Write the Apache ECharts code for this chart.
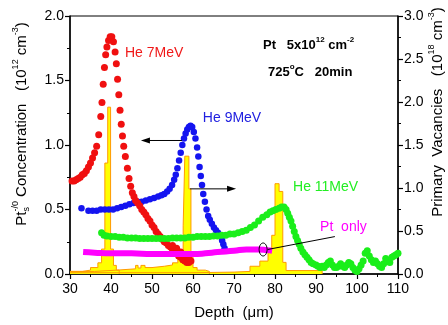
<!DOCTYPE html>
<html><head><meta charset="utf-8">
<script src="https://cdn.jsdelivr.net/npm/echarts@6/dist/echarts.min.js"></script>
<style>html,body{margin:0;padding:0;background:#fff}#c{width:448px;height:325px}</style>
</head><body><div id="c"></div>
<script>
// ---- data (depth in µm) ----
const xRange = [30, 110];
const leftRange = [0, 2];     // Pt concentration 1e12 cm^-3
const rightRange = [0, 3];    // primary vacancies 1e18 cm^-3

const he7 = [[30.5,0.72],[31,0.72],[31.5,0.73],[32,0.74],[32.5,0.75],[33,0.77],[33.5,0.78],[34,0.8],[34.5,0.83],[35,0.86],[35.5,0.9],[36,0.94],[36.5,0.99],[37,1.08],[37.5,1.22],[37.8,1.33],[38.1,1.47],[38.4,1.6],[38.7,1.7],[39,1.76],[39.4,1.81],[39.8,1.84],[40.2,1.84],[40.6,1.8],[41,1.72],[41.3,1.63],[41.6,1.51],[41.9,1.39],[42.2,1.27],[42.5,1.16],[42.8,1.07],[43.1,0.99],[43.5,0.91],[44,0.82],[44.4,0.74],[44.8,0.68],[45.2,0.63],[45.6,0.6],[46,0.57],[46.5,0.55],[47,0.53],[47.5,0.5],[48,0.48],[48.5,0.46],[49,0.43],[49.5,0.41],[50,0.38],[50.5,0.36],[51,0.33],[51.5,0.31],[52,0.29],[52.5,0.27],[53,0.25],[53.5,0.24],[54,0.22],[54.5,0.21],[55,0.19],[55.5,0.18],[56,0.16],[56.5,0.14],[57,0.13],[57.5,0.11],[58,0.1],[58.5,0.09],[59,0.09],[59.5,0.1],[56,0.2],[57,0.17],[58,0.14],[59,0.12],[55,0.22]];

const he9 = [[32.8,0.51],[34.5,0.49],[35.5,0.49],[36.5,0.49],[37.5,0.5],[38.5,0.5],[39.5,0.5],[40.5,0.5],[41.5,0.51],[42.5,0.52],[43.5,0.53],[44.5,0.54],[45.5,0.55],[46.5,0.56],[47.5,0.56],[48.5,0.57],[49.5,0.58],[50.5,0.59],[51.5,0.6],[52.3,0.61],[53,0.62],[53.7,0.64],[54.3,0.66],[54.9,0.69],[55.4,0.73],[55.8,0.77],[56.2,0.82],[56.6,0.88],[57,0.94],[57.4,1.0],[57.8,1.05],[58.2,1.09],[58.6,1.12],[59,1.14],[59.4,1.15],[59.8,1.14],[60.2,1.1],[60.6,1.05],[61,0.98],[61.3,0.91],[61.6,0.83],[61.9,0.76],[62.2,0.69],[62.5,0.62],[62.9,0.56],[63.3,0.5],[63.7,0.45],[64.1,0.42],[64.6,0.39],[65.1,0.36],[65.6,0.34],[66.1,0.32],[66.6,0.3],[67.1,0.26],[67.4,0.23],[67.7,0.2]];

const he11 = [[37.7,0.32],[38.3,0.3],[39,0.295],[40,0.29],[41,0.29],[42,0.285],[43,0.285],[44,0.28],[45,0.28],[46,0.28],[47,0.275],[48,0.275],[49,0.275],[50,0.275],[51,0.275],[52,0.275],[53,0.275],[54,0.275],[55,0.28],[56,0.28],[57,0.28],[58,0.28],[59,0.285],[60,0.285],[61,0.29],[62,0.29],[63,0.29],[64,0.29],[65,0.295],[66,0.295],[67,0.3],[68,0.3],[69,0.31],[70,0.31],[71,0.32],[72,0.33],[73,0.34],[74,0.36],[75,0.38],[76,0.41],[77,0.44],[78,0.46],[78.8,0.48],[79.5,0.49],[80.2,0.5],[81,0.51],[81.6,0.52],[82.2,0.52],[82.7,0.5],[83.1,0.47],[83.5,0.44],[83.9,0.41],[84.3,0.37],[84.7,0.33],[85.1,0.29],[85.5,0.26],[85.9,0.23],[86.3,0.2],[86.8,0.17],[87.3,0.15],[87.8,0.13],[88.3,0.11],[88.8,0.09],[89.3,0.08],[90,0.07],[90.5,0.06],[91,0.05],[91.5,0.06],[92,0.05],[92.5,0.07],[93,0.09],[93.5,0.1],[94,0.07],[94.5,0.05],[95,0.05],[95.5,0.06],[96,0.08],[96.5,0.06],[97,0.05],[97.5,0.07],[98,0.09],[98.5,0.08],[99,0.05],[99.5,0.03],[100,0.02],[100.5,0.04],[101,0.07],[101.5,0.1],[102,0.16],[102.5,0.18],[103,0.14],[103.5,0.11],[104,0.09],[104.5,0.1],[105,0.08],[105.5,0.06],[106,0.05],[106.5,0.08],[107,0.12],[107.5,0.1],[108,0.09],[108.5,0.13],[109,0.14],[109.5,0.15],[110,0.16]];

const ptOnly = [[33.2,0.17],[36,0.165],[40,0.16],[45,0.16],[50,0.155],[55,0.155],[60,0.155],[63,0.16],[66,0.17],[70,0.18],[73,0.19],[76,0.19],[78,0.185],[79.3,0.18]];

// primary vacancies (right axis), histogram bins: [left edge, value]
const vac7 = [[30,0.03],[33,0.045],[35,0.075],[36.8,0.13],[37.7,0.29],[38.5,1.29],[39.2,1.94],[39.9,0.29],[40.6,0.1],[41.3,0.045],[42,0]];
const vac9 = [[30,0.03],[36,0.045],[41.4,0.06],[46,0.1],[46.6,0.07],[47.3,0.1],[48.3,0.075],[50,0.09],[53,0.105],[55,0.13],[56.3,0.21],[57.6,0.56],[58.0,1.37],[59.0,0.99],[59.5,0.21],[60,0.075],[61,0.045],[63,0.03],[64,0]];
const vac11 = [[30,0.015],[60,0.022],[70,0.03],[73.9,0.09],[76.3,0.15],[78.3,0.29],[79.2,0.45],[80,1.05],[81,0.96],[81.9,0.135],[82.7,0.04],[91.5,0]];

const FONT = '"Liberation Sans", Arial, sans-serif';

const chart = echarts.init(document.getElementById('c'), null, {renderer: 'canvas'});

function axisCommon() {
  return {
    axisLine: {show: true, lineStyle: {color: '#000', width: 1.5}},
    axisTick: {show: true, inside: false, length: 5, lineStyle: {color: '#000', width: 1.2}},
    minorTick: {show: true, splitNumber: 2, length: 3, lineStyle: {color: '#000', width: 1}},
    splitLine: {show: false},
    axisLabel: {color: '#000', fontSize: 14, fontFamily: FONT}
  };
}

function vacSeries(d) {
  return {type: 'line', yAxisIndex: 1, step: 'end', data: d, symbol: 'none', silent: true,
    lineStyle: {color: '#ff9a00', width: 1}, areaStyle: {color: '#ffff00', opacity: 1}, z: 1};
}

chart.setOption({
  animation: false,
  backgroundColor: '#fff',
  grid: {left: 70, right: 50, top: 16, bottom: 50, show: true, borderColor: '#000', borderWidth: 1},
  xAxis: Object.assign(axisCommon(), {
    type: 'value', min: xRange[0], max: xRange[1], interval: 10,
    name: 'Depth  (μm)', nameLocation: 'middle', nameGap: 31,
    nameTextStyle: {color: '#000', fontSize: 15, fontFamily: FONT},
    axisLabel: {color: '#000', fontSize: 14, fontFamily: FONT, margin: 8}
  }),
  yAxis: [
    Object.assign(axisCommon(), {type: 'value', min: leftRange[0], max: leftRange[1], interval: 0.5,
      axisLabel: {color: '#000', fontSize: 14, fontFamily: FONT, margin: 6, formatter: v => v.toFixed(1)}}),
    Object.assign(axisCommon(), {type: 'value', position: 'right', min: rightRange[0], max: rightRange[1], interval: 0.5,
      axisLabel: {color: '#000', fontSize: 14, fontFamily: FONT, margin: 6, formatter: v => v.toFixed(1)}})
  ],
  series: [
    vacSeries(vac11), vacSeries(vac9), vacSeries(vac7),
    {name: 'He 9MeV', type: 'scatter', data: he9, symbolSize: 6.5, itemStyle: {color: '#1414f0', opacity: 1}, z: 3},
    {name: 'He 7MeV', type: 'scatter', data: he7, symbolSize: 7, itemStyle: {color: '#f01010', opacity: 1}, z: 4},
    {name: 'He 11MeV', type: 'scatter', data: he11, symbolSize: 7, itemStyle: {color: '#1aee1a', opacity: 1}, z: 5},
    {name: 'Pt only', type: 'line', data: ptOnly, symbol: 'none', smooth: true, lineStyle: {color: '#ff00ff', width: 6}, z: 6}
  ]
});

// ---- text with super/subscripts ----
const ctx = document.createElement('canvas').getContext('2d');
function mathText(parts, size, weight, color, family, center) {
  const small = Math.round(size * 0.62);
  const f = s => `${weight} ${s}px ${family}`;
  const out = [];
  let x = 0;
  const add = (t, s, dy) => {
    out.push({type: 'text', style: {text: t, x: x, y: dy, font: f(s), fill: color,
      textAlign: 'left', textVerticalAlign: 'middle', align: 'left', verticalAlign: 'middle'}});
    ctx.font = f(s);
    return ctx.measureText(t).width;
  };
  parts.forEach(p => {
    if (p.stack) {
      const w1 = add(p.stack[0], small, size * 0.32);
      const w2 = add(p.stack[1], small, -size * 0.42);
      x += Math.max(w1, w2);
    } else if (p.sup) {
      x += add(p.sup, small, -size * 0.42);
    } else {
      x += add(p.t, size, 0);
    }
  });
  if (center) out.forEach(o => { o.style.x -= x / 2; });
  return out;
}

function place() {
  const P = (d, v, axis) => chart.convertToPixel(axis === 1 ? {xAxisIndex: 0, yAxisIndex: 1} : {xAxisIndex: 0, yAxisIndex: 0}, [d, v]);
  const arrowL = [P(57.3, 1.035), P(47.3, 1.035)];
  const arrowR = [P(59.3, 0.66), P(70.5, 0.66)];
  const ell = P(77.1, 0.19);
  const pl = [P(78.2, 0.19), P(94.6, 0.29)];
  const head = (tip, dir) => ({type: 'polygon', shape: {points: [[tip[0], tip[1]], [tip[0] - dir * 9, tip[1] - 3], [tip[0] - dir * 9, tip[1] + 3]]}, style: {fill: '#000'}, z: 20});
  const lab = (t, d, v, color) => {
    const p = P(d, v);
    return {type: 'text', x: p[0], y: p[1], z: 20, style: {text: t, font: `14px ${FONT}`, fill: color, textVerticalAlign: 'middle', verticalAlign: 'middle'}};
  };
  chart.setOption({graphic: [
    {type: 'line', shape: {x1: arrowL[0][0], y1: arrowL[0][1], x2: arrowL[1][0] + 4, y2: arrowL[1][1]}, style: {stroke: '#000', lineWidth: 1}, z: 20},
    head(arrowL[1], -1),
    {type: 'line', shape: {x1: arrowR[0][0], y1: arrowR[0][1], x2: arrowR[1][0] - 4, y2: arrowR[1][1]}, style: {stroke: '#000', lineWidth: 1}, z: 20},
    head(arrowR[1], 1),
    {type: 'ellipse', shape: {cx: ell[0], cy: ell[1], rx: 4, ry: 6.5}, style: {fill: 'none', stroke: '#000', lineWidth: 1}, z: 20},
    {type: 'line', shape: {x1: pl[0][0], y1: pl[0][1], x2: pl[1][0], y2: pl[1][1]}, style: {stroke: '#000', lineWidth: 1}, z: 20},
    lab('He 7MeV', 43.4, 1.71, '#f01818'),
    lab('He 9MeV', 62.4, 1.21, '#2020e0'),
    lab('He 11MeV', 84.4, 0.67, '#22ee22'),
    lab('Pt  only', 91, 0.36, '#ff00ff'),
    {type: 'group', x: 263, y: 45, z: 20, children: mathText([{t: 'Pt   5x10'}, {sup: '12'}, {t: ' cm'}, {sup: '-2'}], 13, 'bold', '#000', FONT, false)},
    {type: 'group', x: 268, y: 72, z: 20, children: mathText([{t: '725'}, {sup: 'o'}, {t: 'C   20min'}], 13, 'bold', '#000', FONT, false)},
    {type: 'group', x: 22, y: 124, rotation: Math.PI / 2, z: 20, children: mathText([{t: 'Pt'}, {stack: ['s', '-/0']}, {t: ' Concentration   (10'}, {sup: '12'}, {t: ' cm'}, {sup: '-3'}, {t: ')'}], 15, 'normal', '#000', FONT, true)},
    {type: 'group', x: 438, y: 112, rotation: Math.PI / 2, z: 20, children: mathText([{t: 'Primary  Vacancies   (10'}, {sup: '18'}, {t: ' cm'}, {sup: '-3'}, {t: ')'}], 15, 'normal', '#000', FONT, true)}
  ]});
}
place();
</script>
</body></html>
